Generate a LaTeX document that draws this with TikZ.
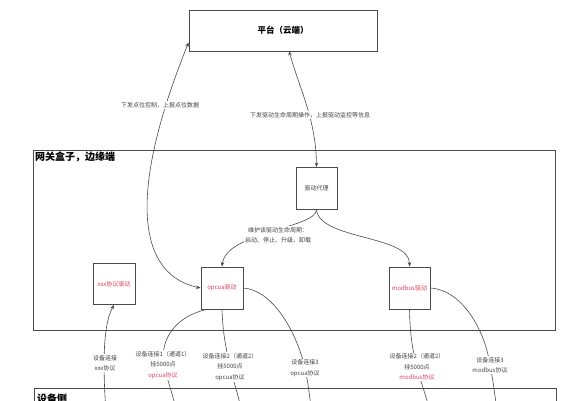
\documentclass[tikz,border=0pt]{standalone}
\usepackage{fontspec}
\setmainfont{Noto Sans CJK SC}
\usetikzlibrary{arrows.meta}
\definecolor{lnc}{HTML}{4A4A4A}
\definecolor{txc}{HTML}{444444}
\definecolor{redc}{HTML}{E0405A}
\begin{document}
\begin{tikzpicture}[x=1pt,y=-1pt,
  boxst/.style={draw=lnc,line width=0.8pt,inner sep=0pt,font=\fontsize{6}{8}\selectfont,text=txc},
  conn/.style={draw=lnc,line width=0.6pt},
  tip/.style={-{Stealth[length=4.5pt,width=3.5pt]}},
  lbl/.style={fill=white,inner sep=1pt,align=center,text=txc,font=\fontsize{6}{10.5}\selectfont},
  ttl/.style={font=\bfseries\fontsize{10}{12}\selectfont,text=black,inner sep=0pt,anchor=north west}]
\useasboundingbox (0,0) rectangle (577,400);
\clip (0,0) rectangle (577,400);
\fill[white] (0,0) rectangle (577,400);
% containers
\node[boxst,minimum width=522pt,minimum height=180pt] (gw) at (294,240) {};
\node[ttl] (gwt) at (35,152) {网关盒子，边缘端};
\node[boxst,minimum width=522pt,minimum height=80pt] (dev) at (295.5,428) {};
\node[ttl] (devt) at (37,394) {设备侧};
% nodes
\node[boxst,minimum width=188pt,minimum height=41pt,font=\bfseries\fontsize{8.5}{10}\selectfont,text=black] (pf) at (283,30.5) {平台（云端）};
\node[boxst,minimum width=41pt,minimum height=42pt] (px) at (316.5,188.5) {驱动代理};
\node[boxst,minimum width=42pt,minimum height=41pt,text=redc] (xx) at (114,284) {xxx协议驱动};
\node[boxst,minimum width=42pt,minimum height=42pt,text=redc] (op) at (222,288) {opcua驱动};
\node[boxst,minimum width=41pt,minimum height=42pt,text=redc] (mb) at (409.5,288) {modbus驱动};
% off-picture device ends
\coordinate (d0) at (108,440);
\coordinate (d1) at (181,440);
\coordinate (d2) at (246,440);
\coordinate (d3) at (313,440);
\coordinate (d4) at (435,440);
\coordinate (d5) at (500,440);
% upper connectors
\draw[conn,{Stealth[length=4.5pt,width=3.5pt]}-{Stealth[length=4.5pt,width=3.5pt]}] (pf.south west)+(0,-9) coordinate (pa) (pa) .. controls (125,200) and (140,275) .. (op.west);
\draw[conn,{Stealth[length=4.5pt,width=3.5pt]}-{Stealth[length=4.5pt,width=3.5pt]}] (289,51) .. controls (300,90) and (316,120) .. (px.north);
\draw[conn,tip] (px.south) .. controls (316,228) and (226,232) .. (op.north);
\draw[conn,tip] (px.south) .. controls (320,240) and (410,235) .. (mb.north);
\node[lbl] (l1) at (160,105) {下发点位控制，上报点位数据};
\node[lbl] (l2) at (310,115) {下发驱动生命周期操作，上报驱动监控等信息};
\node[lbl] (l3) at (278,235) {维护该驱动生命周期：\\启动、停止、升级、卸载};
% lower connectors
\draw[conn,tip] (d0) .. controls (104,390) and (100,330) .. (xx.south);
\draw[conn] ([xshift=6pt]op.south west) .. controls (170,318) and (160,345) .. (164,365) .. controls (168,385) and (178,405) .. (d1);
\draw[conn] (op.south) .. controls (223,340) and (228,355) .. (230,367) .. controls (233,382) and (243,405) .. (d2);
\draw[conn] (op.east) .. controls (272,290) and (296,330) .. (305,368) .. controls (309,388) and (312,410) .. (d3);
\draw[conn] (mb.south) .. controls (410,340) and (414,355) .. (417,367) .. controls (421,385) and (431,405) .. (d4);
\draw[conn] (mb.east) .. controls (462,290) and (485,330) .. (490,365) .. controls (494,385) and (497,410) .. (d5);
\node[lbl] (e0) at (105,363) {设备连接\\xxx协议};
\node[lbl] (e1) at (163,365) {设备连接1（通道1）\\挂5000点\\\textcolor{redc}{opcua协议}};
\node[lbl] (e2) at (230,367) {设备连接2（通道2）\\挂5000点\\opcua协议};
\node[lbl] (e3) at (305,368) {设备连接3\\opcua协议};
\node[lbl] (e4) at (417,367) {设备连接2（通道2）\\挂5000点\\\textcolor{redc}{modbus协议}};
\node[lbl] (e5) at (490,365) {设备连接3\\modbus协议};
\end{tikzpicture}
\end{document}
